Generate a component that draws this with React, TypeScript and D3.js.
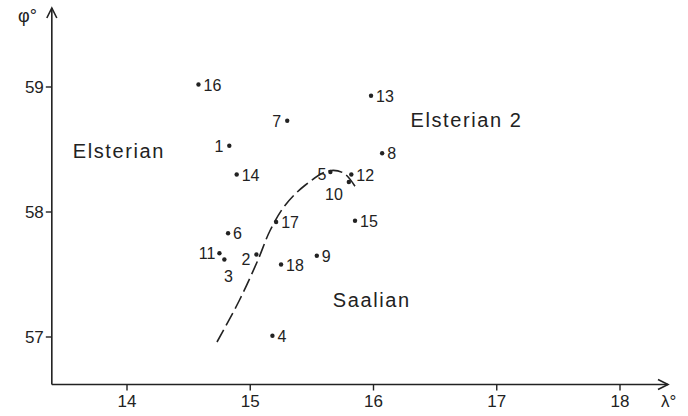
import React from 'react';
import * as d3 from 'd3';

// site numbers with longitude (λ°) and latitude (φ°)
const siteIds = [1, 2, 3, 4, 5, 6, 7, 8, 9, 10, 11, 12, 13, 14, 15, 16, 17, 18];
const lambda = [14.83, 15.05, 14.79, 15.18, 15.65, 14.82, 15.3, 16.07, 15.54, 15.8, 14.75, 15.82, 15.98, 14.89, 15.85, 14.58, 15.21, 15.25];
const phi = [58.53, 57.66, 57.62, 57.01, 58.32, 57.83, 58.73, 58.47, 57.65, 58.24, 57.67, 58.3, 58.93, 58.3, 57.93, 59.02, 57.92, 57.58];

// boundary (dashed) between Elsterian and Saalian
const boundaryLambda = [14.73, 14.91, 15.06, 15.16, 15.28, 15.44, 15.64, 15.76, 15.86];
const boundaryPhi = [56.96, 57.29, 57.61, 57.85, 58.05, 58.21, 58.33, 58.31, 58.19];

const xTicks = [14, 15, 16, 17, 18];
const yTicks = [57, 58, 59];

const regions = [
  { name: 'Elsterian', lambda: 13.56, phi: 58.43 },
  { name: 'Elsterian 2', lambda: 16.3, phi: 58.68 },
  { name: 'Saalian', lambda: 15.67, phi: 57.24 },
];

// where each number sits relative to its dot
const labelPlace: Record<number, [number, number, string]> = {
  1: [-6, 0, 'end'],
  2: [-6, 4, 'end'],
  3: [4, 16, 'middle'],
  5: [-4, 2, 'end'],
  7: [-6, 0, 'end'],
  10: [-6, 12, 'end'],
  11: [-4, 0, 'end'],
};

const W = 688;
const H = 416;

export default function App() {
  const x = d3.scaleLinear().domain([14, 18]).range([127, 620]);
  const y = d3.scaleLinear().domain([57, 59]).range([337, 87]);
  const x0 = x(13.39);
  const y0 = y(56.62);
  const xEnd = 668;
  const yEnd = 8;

  const curve = d3
    .line<number>()
    .x((_, i) => x(boundaryLambda[i]))
    .y((_, i) => y(boundaryPhi[i]))
    .curve(d3.curveCatmullRom)(boundaryLambda);

  const font = '"Liberation Sans", Arial, sans-serif';

  return (
    <svg
      width={W}
      height={H}
      style={{ position: 'absolute', left: 0, top: 0, background: '#fff' }}
      fontFamily={font}
    >
      {/* axes */}
      <line x1={x0} y1={y0} x2={xEnd} y2={y0} stroke="#222" strokeWidth={1.6} />
      <line x1={x0} y1={y0} x2={x0} y2={yEnd} stroke="#222" strokeWidth={1.6} />
      <path d={`M${xEnd - 10},${y0 - 5}L${xEnd},${y0}L${xEnd - 10},${y0 + 5}`} fill="none" stroke="#222" strokeWidth={1.6} />
      <path d={`M${x0 - 5},${yEnd + 10}L${x0},${yEnd}L${x0 + 5},${yEnd + 10}`} fill="none" stroke="#222" strokeWidth={1.6} />

      {xTicks.map((t) => (
        <g key={t}>
          <line x1={x(t)} x2={x(t)} y1={y0} y2={y0 + 6} stroke="#222" strokeWidth={1.4} />
          <text x={x(t)} y={y0 + 22} textAnchor="middle" fontSize={17} fill="#222">
            {t}
          </text>
        </g>
      ))}
      {yTicks.map((t) => (
        <g key={t}>
          <line x1={x0 - 6} x2={x0} y1={y(t)} y2={y(t)} stroke="#222" strokeWidth={1.4} />
          <text x={x0 - 8} y={y(t) + 6} textAnchor="end" fontSize={17} fill="#222">
            {t}
          </text>
        </g>
      ))}
      <text x={661} y={407} fontSize={17} fill="#222">λ°</text>
      <text x={18} y={22} fontSize={18} fill="#222">φ°</text>

      {/* boundary */}
      <path d={curve ?? ''} fill="none" stroke="#222" strokeWidth={1.6} strokeDasharray="14 5" />

      {/* region names */}
      {regions.map((r) => (
        <text key={r.name} x={x(r.lambda)} y={y(r.phi)} fontSize={20} letterSpacing={1.6} fill="#222">
          {r.name}
        </text>
      ))}

      {/* sites */}
      {siteIds.map((id, i) => {
        const cx = x(lambda[i]);
        const cy = y(phi[i]);
        const [dx, dy, anchor] = labelPlace[id] ?? [5, 0, 'start'];
        return (
          <g key={id}>
            <circle cx={cx} cy={cy} r={2.2} fill="#222" />
            <text
              x={cx + dx}
              y={cy + dy + 6}
              textAnchor={anchor as 'start' | 'end' | 'middle'}
              fontSize={16}
              fill="#222"
            >
              {id}
            </text>
          </g>
        );
      })}
    </svg>
  );
}
